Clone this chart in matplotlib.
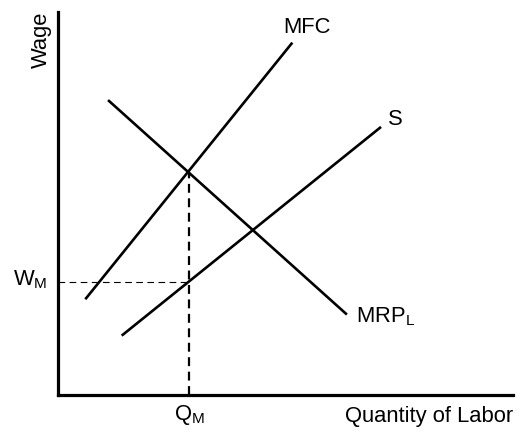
import matplotlib
matplotlib.use("Agg")
import matplotlib.pyplot as plt

plt.rcParams['font.family'] = ['Liberation Sans', 'DejaVu Sans']
plt.rcParams['mathtext.fontset'] = 'custom'
plt.rcParams['mathtext.rm'] = 'Liberation Sans'
plt.rcParams['mathtext.it'] = 'Liberation Sans'

# Curve endpoints (conceptual units)
mfc_x = [0.6, 5.15]
mfc_y = [2.5, 9.2]
mrp_x = [1.1, 6.35]
mrp_y = [7.7, 2.1]
s_x = [1.4, 7.1]
s_y = [1.55, 7.0]
q_m = 2.88
w_m = 2.95
mfc_at_qm = 5.83

fig = plt.figure(figsize=(5.27, 4.37), dpi=100)
ax = fig.add_axes([58/527, 1-395/437, 455/527, 383/437])
ax.set_xlim(0, 10)
ax.set_ylim(0, 10)
for s in ['top', 'right']:
    ax.spines[s].set_visible(False)
for s in ['left', 'bottom']:
    ax.spines[s].set_linewidth(2.3)
ax.set_xticks([])
ax.set_yticks([])

lw = 1.9
ax.plot(mfc_x, mfc_y, color='black', lw=lw, solid_capstyle='butt')
ax.plot(mrp_x, mrp_y, color='black', lw=lw, solid_capstyle='butt')
ax.plot(s_x, s_y, color='black', lw=lw, solid_capstyle='butt')

ax.plot([q_m, q_m], [0, mfc_at_qm], color='black', lw=1.6, ls=(0, (4, 2.5)))
ax.plot([0, q_m], [w_m, w_m], color='black', lw=0.8, ls=(0, (6, 4)))

fs = 15.8
ax.text(5.47, 9.6, 'MFC', fontsize=fs, ha='center', va='center')
ax.text(7.41, 7.2, 'S', fontsize=fs, ha='center', va='center')
ax.text(6.55, 2.05, r'MRP$_\mathrm{L}$', fontsize=fs, ha='left', va='center')
ax.text(-0.24, w_m + 0.05, r'W$_\mathrm{M}$', fontsize=fs, ha='right', va='center', clip_on=False)
ax.text(q_m, -0.22, r'Q$_\mathrm{M}$', fontsize=fs, ha='center', va='top', clip_on=False)
ax.text(10, -0.3, 'Quantity of Labor', fontsize=fs, ha='right', va='top', clip_on=False)
ax.text(-0.37, 9.27, 'Wage', fontsize=fs, ha='center', va='center', rotation=90, clip_on=False)

fig.savefig('out.png', dpi=100)
